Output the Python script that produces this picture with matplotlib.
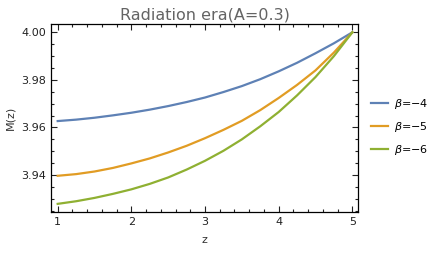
import numpy as np
import matplotlib
matplotlib.use("Agg")
import matplotlib.pyplot as plt
from matplotlib.ticker import MultipleLocator

# values
z = [1.0, 1.25, 1.5, 1.75, 2.0, 2.25, 2.5, 2.75, 3.0,
     3.25, 3.5, 3.75, 4.0, 4.25, 4.5, 4.75, 5.0]
m_b4 = [3.9627, 3.9633, 3.9641, 3.9651, 3.9662, 3.9675, 3.9690, 3.9707, 3.9726,
        3.9749, 3.9774, 3.9803, 3.9836, 3.9872, 3.9912, 3.9954, 4.0000]
m_b5 = [3.9397, 3.9404, 3.9415, 3.9430, 3.9449, 3.9470, 3.9495, 3.9523, 3.9555,
        3.9590, 3.9628, 3.9673, 3.9724, 3.9779, 3.9840, 3.9915, 4.0000]
m_b6 = [3.9279, 3.9290, 3.9304, 3.9321, 3.9340, 3.9363, 3.9390, 3.9423, 3.9460,
        3.9502, 3.9550, 3.9605, 3.9665, 3.9735, 3.9812, 3.9900, 4.0000]
labels = [r"$\beta$=−4", r"$\beta$=−5", r"$\beta$=−6"]
colors = ["#5E81B5", "#E19C24", "#8FB032"]

plt.rcParams["mathtext.fontset"] = "dejavusans"

fig = plt.figure(figsize=(4.31, 2.54), dpi=100)
ax = fig.add_axes([0.1183, 0.1665, 0.7123, 0.739])

for m, lab, c in zip([m_b4, m_b5, m_b6], labels, colors):
    ax.plot(z, m, color=c, lw=1.6, label=lab)

ax.set_xlim(0.909, 5.077)
ax.set_ylim(3.9246, 4.0035)
ax.xaxis.set_major_locator(MultipleLocator(1))
ax.xaxis.set_minor_locator(MultipleLocator(0.2))
ax.yaxis.set_major_locator(MultipleLocator(0.02))
ax.yaxis.set_minor_locator(MultipleLocator(0.005))
ax.yaxis.set_major_formatter(matplotlib.ticker.FormatStrFormatter("%.2f"))
ax.tick_params(which="both", direction="in", top=True, right=True,
               labelsize=8, colors="#222222", width=0.8)
ax.tick_params(which="major", length=4)
ax.tick_params(which="minor", length=2)
for s in ax.spines.values():
    s.set_linewidth(0.9)

ax.set_xlabel("z", fontsize=8, color="#333333", labelpad=6)
ax.set_ylabel("M(z)", fontsize=8, color="#333333", labelpad=4)
ax.set_title("Radiation era(A=0.3)", fontsize=11.5, color="#646464", pad=3)

ax.legend(loc="center left", bbox_to_anchor=(1.0, 0.45), frameon=False,
          fontsize=8, handlelength=1.5, handletextpad=0.5, labelspacing=0.8,
          borderaxespad=0.8)

fig.savefig("out.png", dpi=100)
